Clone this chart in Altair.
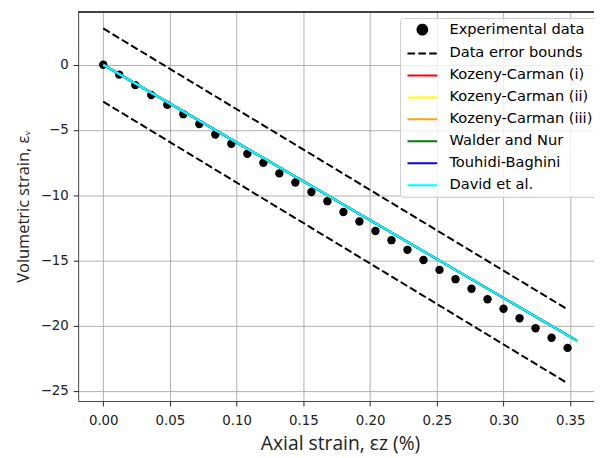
import altair as alt
import pandas as pd

# ---------------- data ----------------
exp_x = [0.000, 0.012, 0.024, 0.036, 0.048, 0.060, 0.072, 0.084, 0.096, 0.108,
         0.120, 0.132, 0.144, 0.156, 0.168, 0.180, 0.192, 0.204, 0.216, 0.228,
         0.240, 0.252, 0.264, 0.276, 0.288, 0.300, 0.312, 0.324, 0.336, 0.348]
exp_y = [0.00, -0.76, -1.56, -2.32, -3.08, -3.79, -4.55, -5.35, -6.06, -6.82,
         -7.52, -8.33, -9.03, -9.76, -10.46, -11.29, -12.02, -12.75, -13.45, -14.19,
         -14.97, -15.73, -16.44, -17.17, -17.98, -18.71, -19.44, -20.20, -20.93, -21.71]

bound_x = [0.0, 0.348]
upper_y = [2.78, -18.76]
lower_y = [-2.83, -24.42]

model_x = [0.0, 0.355]
kc_i_y = [0.0, -21.15]
kc_ii_y = [0.0, -21.15]
kc_iii_y = [0.0, -21.15]
walder_y = [0.0, -21.15]
touhidi_y = [0.0, -21.15]
david_y = [0.0, -21.15]

model_names = ["Kozeny-Carman (i)", "Kozeny-Carman (ii)", "Kozeny-Carman (iii)",
               "Walder and Nur", "Touhidi-Baghini", "David et al."]
model_values = [kc_i_y, kc_ii_y, kc_iii_y, walder_y, touhidi_y, david_y]
model_colors = ["#ff0000", "#ffff00", "#ffa500", "#008000", "#0000ff", "#00ffff"]

series_names = ["Experimental data", "Data error bounds"] + model_names
series_colors = ["#000000", "#000000"] + model_colors

x_ticks = [0.0, 0.05, 0.10, 0.15, 0.20, 0.25, 0.30, 0.35]
y_ticks = [-25, -20, -15, -10, -5, 0]

X_DOMAIN = [-0.0188, 0.3678]
Y_DOMAIN = [-25.78, 4.07]
W, H = 522, 394

# ---------------- tables ----------------
exp_df = pd.DataFrame({"x": exp_x, "y": exp_y, "series": "Experimental data"})
bounds_df = pd.DataFrame({
    "x": bound_x + bound_x,
    "y": upper_y + lower_y,
    "bound": ["upper"] * len(bound_x) + ["lower"] * len(bound_x),
    "series": "Data error bounds",
})

LABEL_FONT = "DejaVu Sans"
TITLE_FONT = "Open Sans"

x_enc = alt.X(
    "x:Q",
    scale=alt.Scale(domain=X_DOMAIN, nice=False, zero=False),
    axis=alt.Axis(
        values=x_ticks, format=".2f", title="Axial strain, εz (%)",
        titleX=265, titleAlign="center", titleY=49.5, titleBaseline="alphabetic",
        labelPadding=7.5, titleFontSize=19.5,
    ),
)
y_enc = alt.Y(
    "y:Q",
    scale=alt.Scale(domain=Y_DOMAIN, nice=False, zero=False),
    axis=alt.Axis(
        values=y_ticks, format="d", title="Volumetric strain, εᵥ",
        labelExpr="replace(datum.label, '-', '\u2212')",
        titleX=-50.5, titleBaseline="alphabetic", labelPadding=5, titleFontSize=16.6,
    ),
)

IS_EXP = "datum.value === 'Experimental data'"
CIRCLE = "M-1.4,0A1.4,1.4 0 1,0 1.4,0A1.4,1.4 0 1,0 -1.4,0Z"
LINE = "M-4.3,0H4.3"

color_enc = alt.Color(
    "series:N",
    scale=alt.Scale(domain=series_names, range=series_colors),
    legend=alt.Legend(
        title=None, orient="none", legendX=325.7, legendY=6.5,
        symbolType=alt.ExprRef(f"{IS_EXP} ? '{CIRCLE}' : '{LINE}'"),
        symbolFillColor=alt.ExprRef(f"{IS_EXP} ? '#000000' : 'transparent'"),
        symbolStrokeColor=alt.ExprRef(f"{IS_EXP} ? 'transparent' : scale('color', datum.value)"),
        symbolDash=alt.ExprRef("datum.value === 'Data error bounds' ? [7.7, 3.3] : [1, 0]"),
        symbolSize=49, symbolStrokeWidth=2, symbolOffset=10.9, symbolOpacity=1,
        labelOffset=20, padding=4.3, rowPadding=6.2,
        labelFont=LABEL_FONT, labelFontSize=14.8, labelColor="#000000", labelLimit=400,
        fillColor="rgba(255,255,255,0.8)", strokeColor="#cccccc", cornerRadius=3,
    ),
)

points = alt.Chart(exp_df).mark_point(filled=True, size=72, opacity=1).encode(
    x=x_enc, y=y_enc, color=color_enc
)

bounds = alt.Chart(bounds_df).mark_line(strokeDash=[7.7, 3.3], strokeWidth=2).encode(
    x=x_enc, y=y_enc, color=color_enc, detail="bound:N"
)

model_layers = []
for name, vals in zip(model_names, model_values):
    df = pd.DataFrame({"x": model_x, "y": vals, "series": name})
    model_layers.append(
        alt.Chart(df).mark_line(strokeWidth=2.1).encode(x=x_enc, y=y_enc, color=color_enc)
    )

top_border = alt.Chart(exp_df).mark_rule(color="#444444", strokeWidth=1).encode(
    x=alt.value(0), x2=alt.value(W), y=alt.value(0)
)

chart = alt.layer(points, bounds, *model_layers, top_border).properties(
    width=W, height=H,
    autosize=alt.AutoSizeParams(type="none"),
    padding={"left": 71, "top": 1, "right": 0, "bottom": 55},
).configure_view(
    stroke="transparent"
).configure_axis(
    grid=True, gridColor="#b0b0b0", gridWidth=1,
    domainColor="#444444", domainWidth=1,
    tickColor="#222222", tickSize=5, tickWidth=1,
    labelFont=LABEL_FONT, labelFontSize=13.5, labelColor="#222222",
    titleFont=TITLE_FONT, titleFontWeight="normal", titleColor="#222222",
)

chart.save("out.html", embed_options={"renderer": "svg", "actions": False})
